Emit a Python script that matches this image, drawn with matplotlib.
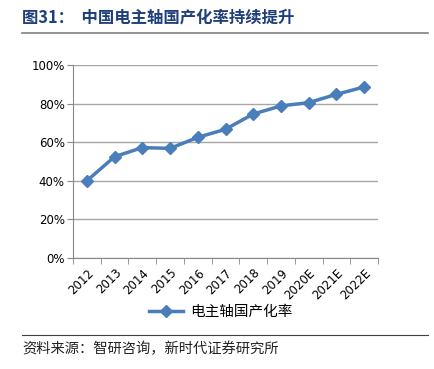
import matplotlib.pyplot as plt
from matplotlib.lines import Line2D

plt.rcParams['font.family'] = ['Noto Sans CJK SC', 'DejaVu Sans']

years = ['2012', '2013', '2014', '2015', '2016', '2017', '2018', '2019', '2020E', '2021E', '2022E']
rate = [0.40, 0.525, 0.572, 0.568, 0.625, 0.667, 0.746, 0.788, 0.805, 0.848, 0.886]
series_name = '电主轴国产化率'

blue = '#4A7EBB'

fig = plt.figure(figsize=(4.34, 3.69), dpi=100)
fig.patch.set_facecolor('white')

# title + rule
fig.text(22 / 434, 1 - 18 / 369, '图31：  中国电主轴国产化率持续提升', fontsize=11.8,
         fontweight='bold', color='#1F3F7A', va='center', ha='left')
fig.add_artist(Line2D([22 / 434, 428 / 434], [1 - 33 / 369] * 2, color='#808080', lw=1.2))

ax = fig.add_axes([73 / 434, 1 - 258 / 369, 305 / 434, 193 / 369])
x = list(range(len(years)))
ax.plot(x, rate, color=blue, lw=2.5, marker='D', markersize=6, label=series_name)

ax.set_xlim(-0.5, len(years) - 0.5)
ax.set_ylim(0, 1.0)
ax.set_yticks([0, 0.2, 0.4, 0.6, 0.8, 1.0])
ax.set_yticklabels(['0%', '20%', '40%', '60%', '80%', '100%'], fontsize=8.5, family='DejaVu Sans')
ax.set_xticks(x)
ax.set_xticklabels(years, rotation=45, ha='right', rotation_mode='anchor', fontsize=8.5, family='DejaVu Sans')
ax.set_xticks([i - 0.5 for i in range(len(years) + 1)], minor=True)
ax.tick_params(axis='x', which='major', length=0, pad=6)
ax.tick_params(axis='x', which='minor', length=4, color='#888888')
ax.tick_params(axis='y', length=4, color='#888888', pad=2)
ax.grid(axis='y', color='#A6A6A6', lw=1)
ax.set_axisbelow(True)
for s in ['top', 'right']:
    ax.spines[s].set_visible(False)
for s in ['left', 'bottom']:
    ax.spines[s].set_color('#888888')

fig.legend(loc='center', bbox_to_anchor=(221 / 434, 1 - 312 / 369), frameon=False,
           handlelength=2.3, handletextpad=0.5, prop={'size': 10.5})

# footer
fig.add_artist(Line2D([22 / 434, 428 / 434], [1 - 335 / 369] * 2, color='#404040', lw=0.8))
fig.text(22 / 434, 1 - 349 / 369, '资料来源：智研咨询，新时代证券研究所', fontsize=10.3,
         color='#222222', va='center', ha='left')

fig.savefig('out.png', dpi=100)
